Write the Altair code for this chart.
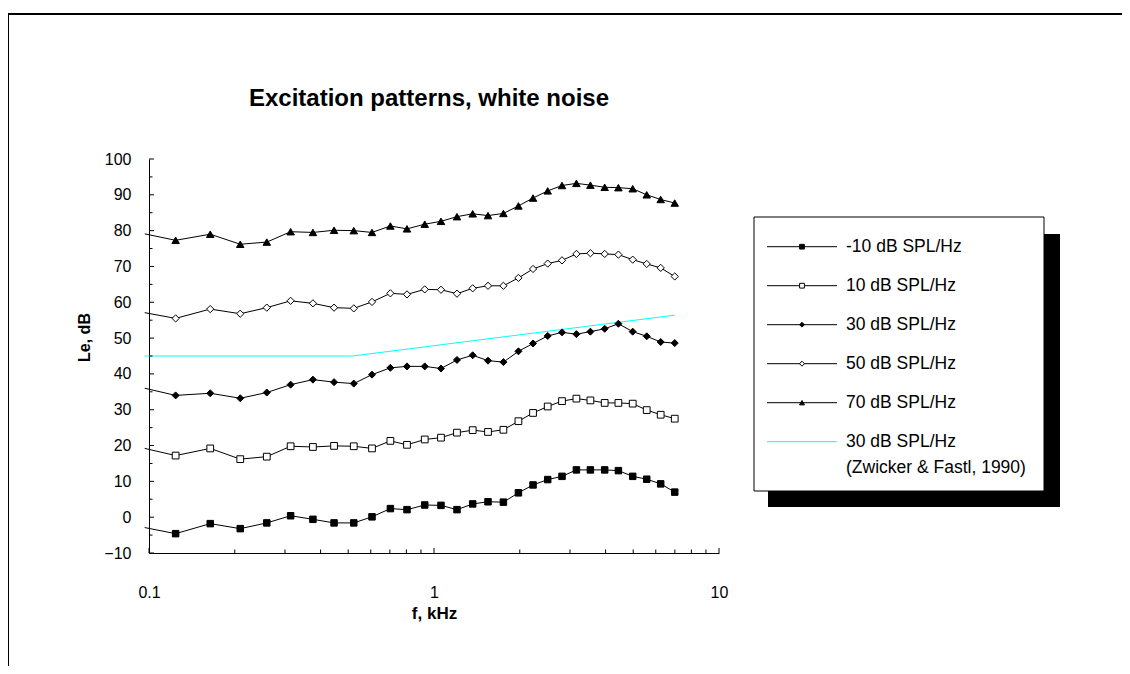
import altair as alt
import pandas as pd

FONT = "Liberation Sans, Arial, sans-serif"

# ---------------- data ----------------
freq_khz = [0.0966, 0.124, 0.164, 0.209, 0.259, 0.314, 0.376, 0.446, 0.523, 0.606,
            0.703, 0.804, 0.928, 1.058, 1.204, 1.367, 1.547, 1.752, 1.978, 2.226,
            2.506, 2.813, 3.160, 3.538, 3.971, 4.436, 4.980, 5.577, 6.243, 6.993]

lvl_m10 = [-2.9, -4.6, -1.8, -3.2, -1.6, 0.4, -0.6, -1.6, -1.6, 0.1,
           2.4, 2.1, 3.4, 3.3, 2.1, 3.7, 4.3, 4.2, 6.8, 9.0,
           10.5, 11.4, 13.2, 13.2, 13.2, 13.0, 11.4, 10.6, 9.3, 7.0]
lvl_10 = [19.2, 17.2, 19.2, 16.2, 16.9, 19.8, 19.6, 19.9, 19.8, 19.2,
          21.3, 20.2, 21.7, 22.2, 23.6, 24.3, 23.8, 24.4, 26.8, 29.1,
          30.9, 32.4, 33.1, 32.6, 31.9, 31.9, 31.7, 29.9, 28.6, 27.5]
lvl_30 = [36.0, 34.0, 34.6, 33.2, 34.8, 37.0, 38.4, 37.7, 37.3, 39.8,
          41.7, 42.1, 42.1, 41.5, 43.9, 45.2, 43.7, 43.3, 46.3, 48.5,
          50.6, 51.6, 51.1, 51.8, 52.6, 54.0, 51.8, 50.5, 48.9, 48.6]
lvl_50 = [57.1, 55.5, 58.1, 56.8, 58.5, 60.4, 59.7, 58.5, 58.3, 60.1,
          62.5, 62.2, 63.6, 63.5, 62.4, 63.9, 64.6, 64.6, 66.8, 69.3,
          70.8, 71.7, 73.5, 73.7, 73.5, 73.3, 71.9, 70.7, 69.6, 67.2]
lvl_70 = [79.1, 77.3, 79.0, 76.2, 76.8, 79.7, 79.5, 80.1, 80.0, 79.5,
          81.3, 80.5, 81.8, 82.6, 83.9, 84.7, 84.2, 84.8, 86.9, 89.1,
          91.1, 92.6, 93.2, 92.7, 92.1, 92.0, 91.7, 90.0, 88.7, 87.7]

zf_freq_khz = [0.0966, 0.518, 6.993]
zf_level = [45.0, 45.0, 56.4]

series_names = ["-10 dB SPL/Hz", "10 dB SPL/Hz", "30 dB SPL/Hz",
                "50 dB SPL/Hz", "70 dB SPL/Hz"]
legend_labels = ["\u00a0-10 dB SPL/Hz", "10 dB SPL/Hz", "30 dB SPL/Hz",
                 "50 dB SPL/Hz", "70 dB SPL/Hz", "30 dB SPL/Hz"]
legend_note = "(Zwicker & Fastl, 1990)"
zf_name = "Zwicker & Fastl"

title_text = "Excitation patterns, white noise"
x_title = "f, kHz"
y_title = "Le, dB"

x_tick_values = [0.1, 1, 10]
x_minor_ticks = [0.2, 0.3, 0.4, 0.5, 0.6, 0.7, 0.8, 0.9, 2, 3, 4, 5, 6, 7, 8, 9]
y_tick_values = [-10, 0, 10, 20, 30, 40, 50, 60, 70, 80, 90, 100]
y_minor_ticks = [-5, 5, 15, 25, 35, 45, 55, 65, 75, 85, 95]

# ---------------- tables ----------------
rows = []
for name, levels in zip(series_names, [lvl_m10, lvl_10, lvl_30, lvl_50, lvl_70]):
    for f, v in zip(freq_khz, levels):
        rows.append({"series": name, "f": f, "level": v})
df = pd.DataFrame(rows)
pts = df[df["f"] >= 0.1]
zf = pd.DataFrame({"f": zf_freq_khz, "level": zf_level})

W, H = 570, 394

xscale = alt.Scale(type="log", domain=[0.1, 10], nice=False)
yscale = alt.Scale(domain=[-10, 100], nice=False, zero=False)

xaxis = alt.Axis(values=x_tick_values, format="~g", ticks=False, tickSize=0, grid=False,
                 domainColor="black", domainWidth=1, labelFont=FONT, labelFontSize=16,
                 labelColor="black", labelPadding=31, labelFlush=False, labelOverlap=False,
                 title=x_title, titleFont=FONT, titleFontSize=17, titleFontWeight="bold",
                 titleColor="black", titleX=285, titleY=65, titleBaseline="alphabetic",
                 titleAlign="center")
yaxis = alt.Axis(values=y_tick_values, ticks=False, tickSize=0, grid=False,
                 domainColor="black", domainWidth=1, labelFont=FONT, labelFontSize=16,
                 labelColor="black", labelPadding=18, labelFlush=False, labelOverlap=False,
                 title=y_title, titleFont=FONT, titleFontSize=16, titleFontWeight="bold",
                 titleColor="black", titleX=-60, titleY=178, titleBaseline="alphabetic",
                 titleAlign="center", titleAngle=270)

X = alt.X("f:Q", scale=xscale, axis=xaxis)
Y = alt.Y("level:Q", scale=yscale, axis=yaxis)

shape_scale = alt.Scale(domain=series_names,
                        range=["square", "square", "diamond", "diamond", "triangle-up"])
fill_scale = alt.Scale(domain=series_names,
                       range=["black", "white", "black", "white", "black"])

lines = alt.Chart(df).mark_line(color="black", strokeWidth=1, clip=False).encode(
    x=X, y=Y, detail="series:N", order="f:Q")
cyan = alt.Chart(zf).mark_line(color="#00ffff", strokeWidth=1, clip=False).encode(
    x=X, y=Y, order="f:Q")
points = alt.Chart(pts).mark_point(filled=True, opacity=1, stroke="black",
                                   strokeWidth=1).encode(
    x=X, y=Y,
    shape=alt.Shape("series:N", scale=shape_scale, legend=None),
    fill=alt.Fill("series:N", scale=fill_scale, legend=None),
    size=alt.Size("series:O", scale=alt.Scale(domain=series_names,
                                             range=[42, 56, 34, 90, 52]), legend=None),
)

xmaj = alt.Chart(pd.DataFrame({"f": x_tick_values})).mark_rule(color="black").encode(
    x=X, y=alt.value(H), y2=alt.value(H - 5))
xmin = alt.Chart(pd.DataFrame({"f": x_minor_ticks})).mark_rule(color="black").encode(
    x=X, y=alt.value(H), y2=alt.value(H - 3.5))
ymaj = alt.Chart(pd.DataFrame({"level": y_tick_values})).mark_rule(color="black").encode(
    y=Y, x=alt.value(0), x2=alt.value(5))
ymin = alt.Chart(pd.DataFrame({"level": y_minor_ticks})).mark_rule(color="black").encode(
    y=Y, x=alt.value(0), x2=alt.value(3.5))

main = alt.layer(lines, cyan, points, xmaj, xmin, ymaj, ymin)

# ---------------- legend, title, frame ----------------
one = pd.DataFrame({"k": [0]})
legend_df = pd.DataFrame({"row": list(range(6)), "label": legend_labels,
                          "series": series_names + [zf_name]})
LY = alt.Y("row:Q", scale=alt.Scale(domain=[0, 5], range=[87.7, 282.7]), axis=None)

shadow = alt.Chart(one).mark_rect(color="black").encode(
    x=alt.value(619), x2=alt.value(911), y=alt.value(75), y2=alt.value(348))
box = alt.Chart(one).mark_rect(fill="white", stroke="black", strokeWidth=1).encode(
    x=alt.value(605), x2=alt.value(895), y=alt.value(58), y2=alt.value(332))
leg_lines = alt.Chart(legend_df).mark_rule(strokeWidth=1).encode(
    x=alt.value(618), x2=alt.value(688), y=LY,
    color=alt.Color("series:N", scale=alt.Scale(domain=series_names + [zf_name],
                                                range=["black"] * 5 + ["#00ffff"]),
                    legend=None))
leg_pts = alt.Chart(legend_df.iloc[:5]).mark_point(filled=True, opacity=1, stroke="black",
                                                   strokeWidth=1).encode(
    x=alt.value(653), y=LY,
    shape=alt.Shape("series:N", scale=shape_scale, legend=None),
    fill=alt.Fill("series:N", scale=fill_scale, legend=None),
    size=alt.Size("series:O", scale=alt.Scale(domain=series_names,
                                             range=[22, 25, 18, 40, 26]), legend=None),
)
leg_text = alt.Chart(legend_df).mark_text(align="left", baseline="middle", font=FONT,
                                          fontSize=17.5, color="black").encode(
    x=alt.value(697), y=LY, text="label:N")
leg_note = alt.Chart(pd.DataFrame({"row": [5], "label": [legend_note]})).mark_text(
    align="left", baseline="middle", font=FONT, fontSize=17.5, color="black",
    dy=26.6).encode(x=alt.value(697), y=LY, text="label:N")

title = alt.Chart(one).mark_text(text=title_text, font=FONT, fontSize=24,
                                 fontWeight="bold", align="center",
                                 baseline="alphabetic", color="black").encode(
    x=alt.value(280), y=alt.value(-53))

frame_top = alt.Chart(one).mark_rule(color="black", strokeWidth=2).encode(
    x=alt.value(-141), x2=alt.value(973), y=alt.value(-145))
frame_left = alt.Chart(one).mark_rule(color="black", strokeWidth=1).encode(
    x=alt.value(-140.5), y=alt.value(-145), y2=alt.value(507))

extras = alt.layer(frame_top, frame_left, title, shadow, box, leg_lines, leg_pts,
                   leg_text, leg_note)

chart = alt.layer(main, extras).resolve_scale(
    x="independent", y="independent", shape="independent", fill="independent",
    size="independent", color="independent"
).properties(
    width=W, height=H,
    autosize=alt.AutoSizeParams(type="none"),
    padding={"left": 141, "top": 151, "right": 403, "bottom": 113},
).configure_view(stroke=None)

chart.save("out.html", embed_options={"renderer": "svg", "actions": False})
